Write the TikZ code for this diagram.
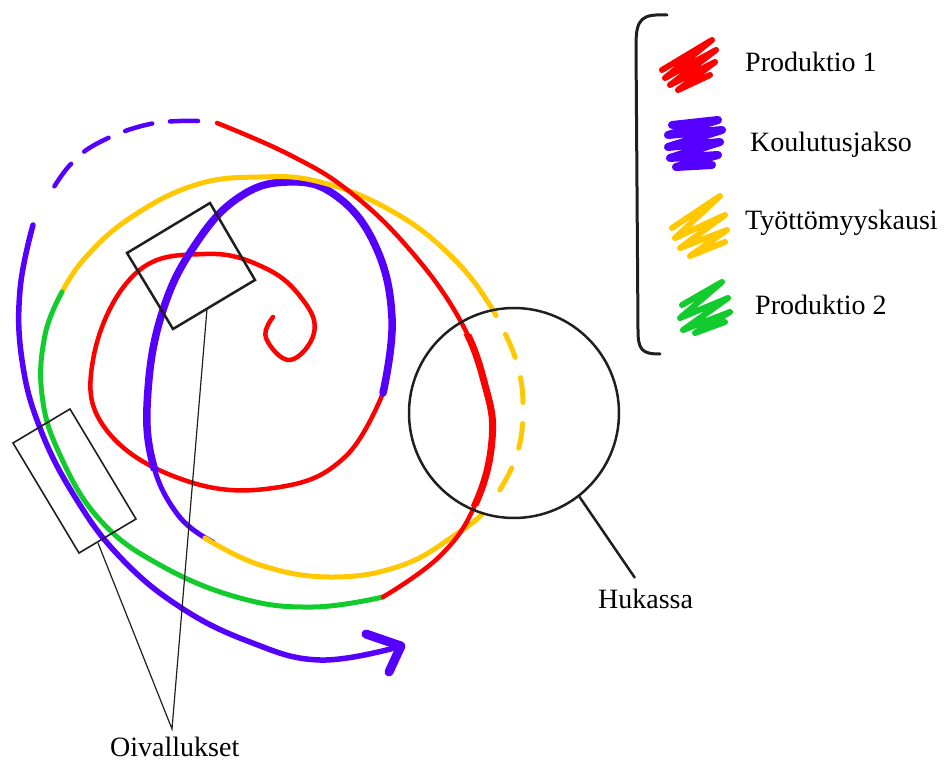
\documentclass[tikz,border=0pt]{standalone}
\usepackage{fontspec}
\setmainfont{Liberation Serif}
\definecolor{pred}{HTML}{FF0000}
\definecolor{ppur}{HTML}{5500FF}
\definecolor{pyel}{HTML}{FFC800}
\definecolor{pgrn}{HTML}{12CC2E}
\def\tens{0.7}
\tikzset{
  curve/.style={line cap=round, line join=round},
  lbl/.style={font=\fontsize{28}{32}\selectfont, inner sep=0pt, anchor=base west},
  scrib/.style={line cap=round, line join=round},
  frame/.style={draw=black!88, line join=miter},
  pointer/.style={draw=black!88, line width=1.2pt},
}
\begin{document}
\begin{tikzpicture}[x=1pt,y=-1pt]
\useasboundingbox (0,0) rectangle (946,762);
% ---------- spiral ----------
% red inner (Produktio 1)
\draw[curve, pred, line width=4.5pt] plot[smooth, tension=\tens] coordinates {
 (273,317) (266,338) (290,360) (314,333) (303,300) (265,268) (205,254) (135,274)
 (93,360) (108,432) (190,482) (280,487) (345,457) (383,393)};
% purple inner (Koulutusjakso)
\def\purin{(383,393) (392,318) (375,245) (335,195) (287,182) (238,198) (195,245)
 (163,310) (148,390) (152,460) (178,515) (213,542)}
\draw[curve, ppur, line width=5pt] plot[smooth, tension=\tens] coordinates {\purin};
\begin{scope}
\clip (0,0) rectangle (946,470);
\draw[curve, ppur, line width=7.5pt] plot[smooth, tension=\tens] coordinates {\purin};
\end{scope}
% yellow (Tyottomyyskausi)
\def\yel{(205,538) (260,565) (330,577) (400,566) (455,535) (490,505) (515,460)
 (523,410) (516,360) (493,310) (450,255) (390,210) (320,182) (260,177) (195,185)
 (130,218) (85,258) (62,292)}
\draw[curve, pyel, line width=5pt] plot[smooth, tension=\tens] coordinates {\yel};
\begin{scope}
\clip (514,413) circle (104);
\draw[white, line width=8pt] plot[smooth, tension=\tens] coordinates {\yel};
\draw[curve, pyel, line width=5pt, dash pattern=on 25pt off 21pt, dash phase=28pt]
  plot[smooth, tension=\tens] coordinates {(490,505) (515,460) (523,410) (516,360) (493,310)};
\end{scope}
% green (Produktio 2)
\draw[curve, pgrn, line width=5pt] plot[smooth, tension=\tens] coordinates {
 (62,292) (45,335) (42,395) (60,455) (100,520) (160,565) (240,598) (313,607) (383,597)};
% red outer
\def\redout{(383,597) (440,556) (475,505) (492,440) (485,385) (460,320) (410,250)
 (350,192) (290,155) (217,123)}
\draw[curve, pred, line width=4.5pt] plot[smooth, tension=\tens] coordinates {\redout};
\begin{scope}
\clip (455,335) rectangle (520,505);
\draw[curve, pred, line width=7pt] plot[smooth, tension=\tens] coordinates {\redout};
\end{scope}
% purple outer, dashed then solid, with arrow head
\draw[curve, ppur, line width=4.5pt, dash pattern=on 28pt off 18pt]
  plot[smooth, tension=\tens] coordinates {(198,121) (150,124) (100,142) (70,165) (48,197)};
\draw[curve, ppur, line width=5.5pt] plot[smooth, tension=\tens] coordinates {
 (33,225) (20,290) (22,360) (40,428) (75,497) (120,557) (180,607) (250,642)
 (320,660) (398,647)};
\draw[curve, ppur, line width=9pt] (366,634) -- (401,646) -- (389,672);
% ---------- insight boxes ----------
\draw[frame, line width=1.6pt] (13,443) -- (70,409) -- (136,519) -- (79,553) -- cycle;
\draw[frame, line width=2.5pt] (127,253) -- (210,203) -- (255,280) -- (173,329) -- cycle;
\node[lbl] (oiv) at (110,756) {Oivallukset};
\coordinate (oivtip) at (172,729);
\coordinate (boxA) at (98,543);
\coordinate (boxB) at (207,309);
\draw[pointer] (boxA) -- (oivtip) -- (boxB);
% ---------- waste circle ----------
\node[draw=black!88, line width=2.5pt, circle, minimum size=210pt, inner sep=0pt] (huk) at (514,413) {};
\node[lbl] (hukt) at (598,608) {Hukassa};
\coordinate (huktip) at (635,578);
\draw[draw=black!88, line width=2.5pt] (huk.-52) -- (huktip);
% ---------- legend ----------
\draw[black!88, line width=3pt, line cap=round]
  (667,15) .. controls (642,14) and (636,18) .. (636,45) -- (638,330)
  .. controls (638,350) and (642,354) .. (660,354);
\draw[scrib, pred, line width=6pt] (662,70) -- (712,40) -- (665,78) -- (716,50)
  -- (670,85) -- (715,62) -- (678,90) -- (710,75);
\draw[scrib, ppur, line width=8pt] (672,125) -- (718,120) -- (668,135) -- (722,130)
  -- (668,147) -- (720,142) -- (670,158) -- (718,155) -- (676,167) -- (712,165);
\draw[scrib, pyel, line width=6pt] (672,228) -- (720,196) -- (675,238) -- (725,215)
  -- (680,248) -- (727,230) -- (690,256) -- (725,242);
\draw[scrib, pgrn, line width=6pt] (682,305) -- (722,282) -- (680,318) -- (728,298)
  -- (683,330) -- (730,312) -- (695,333) -- (725,322);
\node[lbl] (l1) at (745,72) {Produktio 1};
\node[lbl] (l2) at (750,152) {Koulutusjakso};
\node[lbl] (l3) at (745,230) {Työttömyyskausi};
\node[lbl] (l4) at (755,315) {Produktio 2};
\end{tikzpicture}
\end{document}
